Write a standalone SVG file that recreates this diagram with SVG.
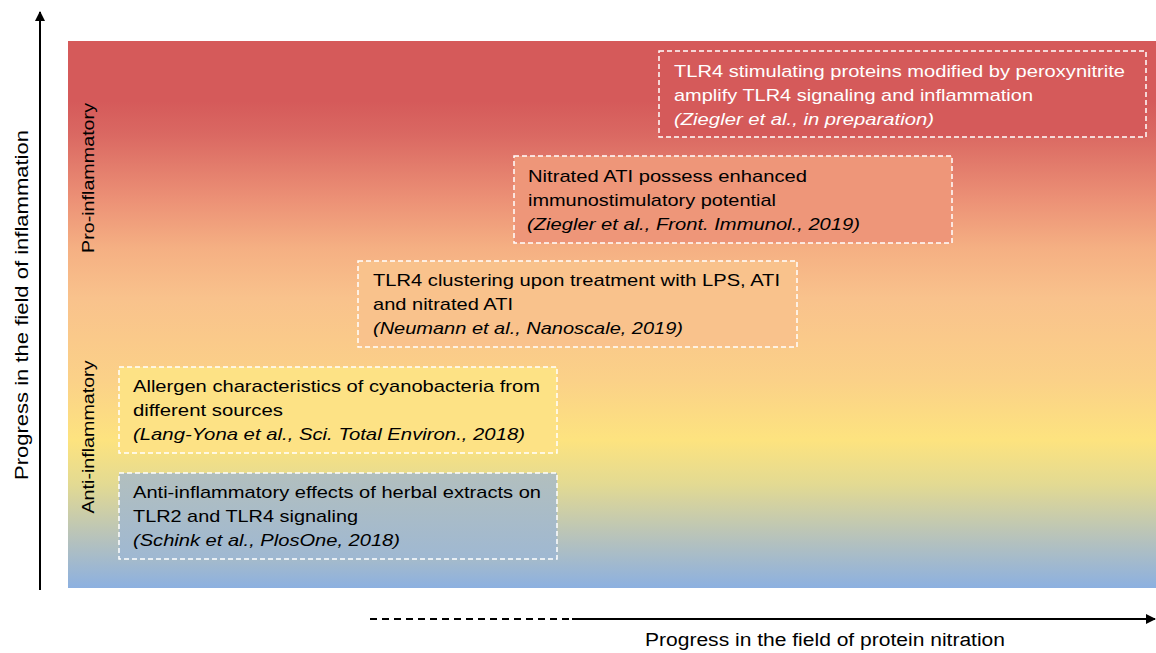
<svg xmlns="http://www.w3.org/2000/svg" width="1156" height="653" viewBox="0 0 1156 653">
<defs>
<linearGradient id="bg" x1="0" y1="41" x2="0" y2="588" gradientUnits="userSpaceOnUse">
<stop offset="0" stop-color="#d55a5a"/>
<stop offset="0.11" stop-color="#d55a5a"/>
<stop offset="0.17" stop-color="#da6862"/>
<stop offset="0.29" stop-color="#ec9176"/>
<stop offset="0.38" stop-color="#f5b083"/>
<stop offset="0.47" stop-color="#f9c28c"/>
<stop offset="0.62" stop-color="#fbd188"/>
<stop offset="0.73" stop-color="#fde37f"/>
<stop offset="0.81" stop-color="#e3da92"/>
<stop offset="0.91" stop-color="#b6c2bc"/>
<stop offset="1" stop-color="#8cb0e0"/>
</linearGradient>
<linearGradient id="b5" x1="0" y1="0" x2="0" y2="1">
<stop offset="0" stop-color="#b2bfbe"/>
<stop offset="1" stop-color="#9fb8d2"/>
</linearGradient>
<marker id="arr" viewBox="0 0 10 10" refX="9" refY="5" markerWidth="5" markerHeight="5" orient="auto-start-reverse" markerUnits="strokeWidth">
<path d="M0,0 L10,5 L0,10 z" fill="#000"/>
</marker>
<style>
.box{stroke:#fff;stroke-width:1.5;stroke-dasharray:5 3;}
.t{font-family:"Liberation Sans",Arial,sans-serif;font-size:17px;fill:#000;}
.w{fill:#fff;}
.i{font-style:italic;}
.ax{font-family:"Liberation Sans",Arial,sans-serif;font-size:18px;fill:#000;}
.lbl{font-family:"Liberation Sans",Arial,sans-serif;font-size:17px;fill:#000;}
</style>
</defs>
<rect x="68" y="41" width="1088" height="547" fill="url(#bg)"/>
<g id="side-labels">
<text class="lbl" transform="translate(94,178) rotate(-90)" text-anchor="middle" textLength="150" lengthAdjust="spacingAndGlyphs">Pro-inflammatory</text>
<text class="lbl" transform="translate(94,437) rotate(-90)" text-anchor="middle" textLength="153" lengthAdjust="spacingAndGlyphs">Anti-inflammatory</text>
</g>
<g id="node5">
<rect class="box" x="119" y="473" width="438" height="86" fill="url(#b5)"/>
<text class="t" x="133" y="498" textLength="408" lengthAdjust="spacingAndGlyphs">Anti-inflammatory  effects of herbal extracts on</text>
<text class="t" x="133" y="522" textLength="225" lengthAdjust="spacingAndGlyphs">TLR2 and TLR4 signaling</text>
<text class="t i" x="133" y="546" textLength="267" lengthAdjust="spacingAndGlyphs">(Schink et al., PlosOne, 2018)</text>
</g>
<g id="node4">
<rect class="box" x="119" y="367" width="438" height="86" fill="#fde285"/>
<text class="t" x="133" y="392" textLength="407" lengthAdjust="spacingAndGlyphs">Allergen  characteristics of cyanobacteria from</text>
<text class="t" x="133" y="416" textLength="150" lengthAdjust="spacingAndGlyphs">different sources</text>
<text class="t i" x="133" y="440" textLength="392" lengthAdjust="spacingAndGlyphs">(Lang-Yona et al., Sci. Total Environ., 2018)</text>
</g>
<g id="node3">
<rect class="box" x="358" y="261" width="439" height="86" fill="#f9c28c"/>
<text class="t" x="373" y="286" textLength="407" lengthAdjust="spacingAndGlyphs">TLR4 clustering upon treatment with LPS, ATI</text>
<text class="t" x="373" y="310" textLength="140" lengthAdjust="spacingAndGlyphs">and nitrated ATI</text>
<text class="t i" x="373" y="334" textLength="310" lengthAdjust="spacingAndGlyphs">(Neumann et al., Nanoscale, 2019)</text>
</g>
<g id="node2">
<rect class="box" x="514" y="156" width="438" height="87" fill="#ee9679"/>
<text class="t" x="528" y="182" textLength="279" lengthAdjust="spacingAndGlyphs">Nitrated ATI possess enhanced</text>
<text class="t" x="528" y="206" textLength="248" lengthAdjust="spacingAndGlyphs">immunostimulatory  potential</text>
<text class="t i" x="527" y="230" textLength="333" lengthAdjust="spacingAndGlyphs">(Ziegler et al., Front. Immunol., 2019)</text>
</g>
<g id="node1">
<rect class="box" x="659" y="51" width="487" height="86" fill="#d55a5a"/>
<text class="t w" x="674" y="77" textLength="451" lengthAdjust="spacingAndGlyphs">TLR4 stimulating  proteins modified by peroxynitrite</text>
<text class="t w" x="674" y="101" textLength="359" lengthAdjust="spacingAndGlyphs">amplify  TLR4 signaling  and inflammation</text>
<text class="t w i" x="674" y="125" textLength="260" lengthAdjust="spacingAndGlyphs">(Ziegler et al., in preparation)</text>
</g>
<g id="connectors">
<line x1="40" y1="590" x2="40" y2="12" stroke="#000" stroke-width="2" marker-end="url(#arr)"/>
<line x1="370" y1="619" x2="572" y2="619" stroke="#000" stroke-width="2" stroke-dasharray="7 5"/>
<line x1="572" y1="619" x2="1155" y2="619" stroke="#000" stroke-width="2" marker-end="url(#arr)"/>
</g>
<g id="axis-labels">
<text class="ax" transform="translate(28,305) rotate(-90)" text-anchor="middle" textLength="350" lengthAdjust="spacingAndGlyphs">Progress in the field of inflammation</text>
<text class="ax" x="825" y="646" text-anchor="middle" textLength="360" lengthAdjust="spacingAndGlyphs">Progress in the field of protein nitration</text>
</g>
</svg>
